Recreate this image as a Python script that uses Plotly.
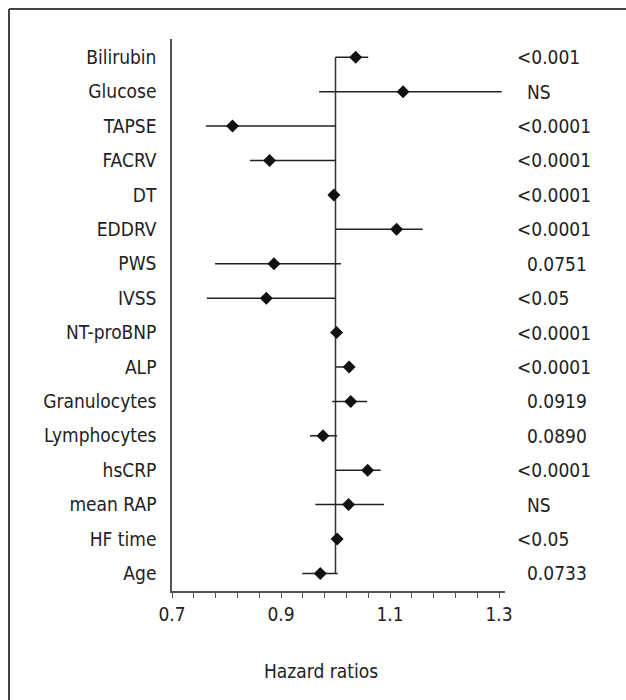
import plotly.graph_objects as go

# Data (top to bottom)
variables = ["Bilirubin", "Glucose", "TAPSE", "FACRV", "DT", "EDDRV", "PWS", "IVSS",
             "NT-proBNP", "ALP", "Granulocytes", "Lymphocytes", "hsCRP", "mean RAP",
             "HF time", "Age"]
hr = [1.037, 1.124, 0.811, 0.879, 0.997, 1.112, 0.887, 0.873,
      1.002, 1.025, 1.028, 0.977, 1.059, 1.024, 1.003, 0.972]
ci_low = [1.000, 0.970, 0.762, 0.843, 0.997, 1.000, 0.779, 0.764,
          1.002, 1.000, 0.994, 0.953, 1.000, 0.963, 1.003, 0.939]
ci_high = [1.060, 1.305, 1.000, 1.000, 0.997, 1.160, 1.010, 1.000,
           1.002, 1.033, 1.058, 1.003, 1.083, 1.089, 1.003, 1.004]
p_values = ["<0.001", "NS", "<0.0001", "<0.0001", "<0.0001", "<0.0001", "0.0751", "<0.05",
            "<0.0001", "<0.0001", "0.0919", "0.0890", "<0.0001", "NS", "<0.05", "0.0733"]
tick_vals = [0.7, 0.9, 1.1, 1.3]
ref_value = 1.0

FONT = "DejaVu Sans Condensed, Liberation Sans Narrow, sans-serif"
TXT = "#222222"
n = len(variables)
ypos = [n - 1 - i for i in range(n)]

# figure geometry (page body margin removed in post_script)
W, H = 626, 700
L, R, T, B = 172, 121, 39, 109
PW, PH = W - L - R, H - T - B

fig = go.Figure()

# reference line
fig.add_trace(go.Scatter(x=[ref_value, ref_value], y=[ypos[-1], ypos[0]], mode="lines",
                         line=dict(color="#333333", width=1.5), hoverinfo="skip",
                         showlegend=False))

# CI lines
for i in range(n):
    fig.add_trace(go.Scatter(x=[ci_low[i], ci_high[i]], y=[ypos[i], ypos[i]], mode="lines",
                             line=dict(color="#222222", width=1.5), hoverinfo="skip",
                             showlegend=False))

# points
fig.add_trace(go.Scatter(x=hr, y=ypos, mode="markers",
                         marker=dict(symbol="diamond", size=10, color="#111111"),
                         showlegend=False))

# p-value annotations
for i in range(n):
    pv = p_values[i]
    fig.add_annotation(x=1, xref="paper", y=ypos[i], yref="y", text=pv,
                       showarrow=False, xanchor="left",
                       xshift=10 if pv.startswith("<") else 20,
                       font=dict(family=FONT, size=19, color=TXT))

fig.add_annotation(x=(321 - L) / PW, xref="paper", y=-80 / PH, yref="paper",
                   text="Hazard ratios", showarrow=False, xanchor="center", yanchor="middle",
                   font=dict(family=FONT, size=19, color=TXT))

x_left = (9 - L) / PW
x_right = (W - L) / PW
y_top = 1 + (T - 9) / PH
y_bot = -B / PH

fig.update_layout(
    width=W, height=H,
    margin=dict(l=L, r=R, t=T, b=B),
    paper_bgcolor="white", plot_bgcolor="white",
    font=dict(family=FONT, size=19, color=TXT),
    xaxis=dict(range=[0.7, 1.311], tickvals=tick_vals, ticktext=[f"{v:.1f}" for v in tick_vals],
               showgrid=False, zeroline=False, showline=True, linecolor="#555555", linewidth=1.5,
               ticks="outside", ticklen=5, tickcolor="#555555", tickwidth=1.2,
               tickfont=dict(family=FONT, size=19, color=TXT),
               minor=dict(dtick=0.04, tick0=0.7, ticks="outside", ticklen=5,
                          tickcolor="#555555", tickwidth=1.2, showgrid=False)),
    yaxis=dict(range=[-0.51, 15.53], tickvals=ypos, ticktext=variables,
               showgrid=False, zeroline=False, showline=True, linecolor="#555555", linewidth=1.5,
               ticks="", ticklabelstandoff=10,
               tickfont=dict(family=FONT, size=19, color=TXT)),
    shapes=[
        dict(type="line", xref="paper", yref="paper", x0=x_left, x1=x_left, y0=y_bot, y1=y_top,
             line=dict(color="#444444", width=2)),
        dict(type="line", xref="paper", yref="paper", x0=x_left, x1=x_right, y0=y_top, y1=y_top,
             line=dict(color="#444444", width=2)),
    ],
)

fig.write_html("out.html", config={"displayModeBar": False},
               post_script="document.body.style.margin='0';document.body.style.overflow='hidden';")
